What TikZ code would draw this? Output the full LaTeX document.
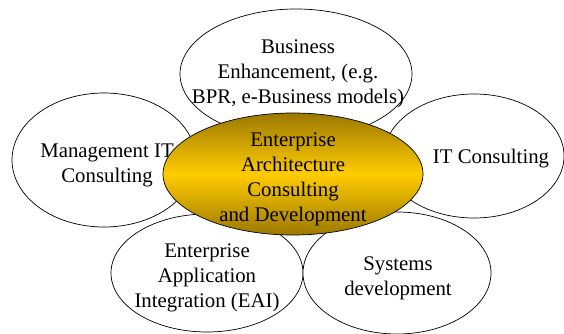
\documentclass[tikz,border=0pt]{standalone}
\usepackage{fontspec}
\setmainfont{Liberation Serif}
\definecolor{golddark}{HTML}{9C7800}
\definecolor{goldlight}{HTML}{FFCC00}
\tikzset{
  petal/.style={draw=black, fill=white, line width=0.7pt},
  core/.style={draw=black, line width=0.7pt, top color=golddark, bottom color=golddark, middle color=goldlight},
  petaltext/.style={align=center, inner sep=0pt, font=\fontsize{20.8}{25}\selectfont}
}

\begin{document}
\begin{tikzpicture}[x=1pt,y=-1pt]
        \useasboundingbox (0,0) rectangle (564,334);
        \coordinate (BE) at (296,74);
        \coordinate (MC) at (104,160);
        \coordinate (IT) at (474,156);
        \coordinate (EAI) at (207,273);
        \coordinate (SD) at (397,273);
        \coordinate (EA) at (293,174);
        \filldraw[petal] (BE) ellipse [x radius=116pt, y radius=65pt];
        \node[petaltext] (bizText) at (298,74) {Business\\Enhancement, (e.g.\\BPR, e-Business models)};
        \filldraw[petal] (MC) ellipse [x radius=92pt, y radius=67pt];
        \node[petaltext] (mgmtText) at (107,165) {Management IT\\Consulting};
        \filldraw[petal] (IT) ellipse [x radius=90pt, y radius=62pt];
        \node[petaltext] (itText) at (491,159) {IT Consulting};
        \filldraw[petal] (EAI) ellipse [x radius=96pt, y radius=59pt];
        \node[petaltext] (eaiText) at (207,278) {Enterprise\\Application\\Integration (EAI)};
        \filldraw[petal] (SD) ellipse [x radius=94pt, y radius=61pt];
        \node[petaltext] (sysText) at (398,278) {Systems\\development};
        \draw[core] (EA) ellipse [x radius=130pt, y radius=61pt];
        \node[petaltext] (eaText) at (293,179) {Enterprise\\Architecture\\Consulting\\and Development};
    \end{tikzpicture}
\end{document}
